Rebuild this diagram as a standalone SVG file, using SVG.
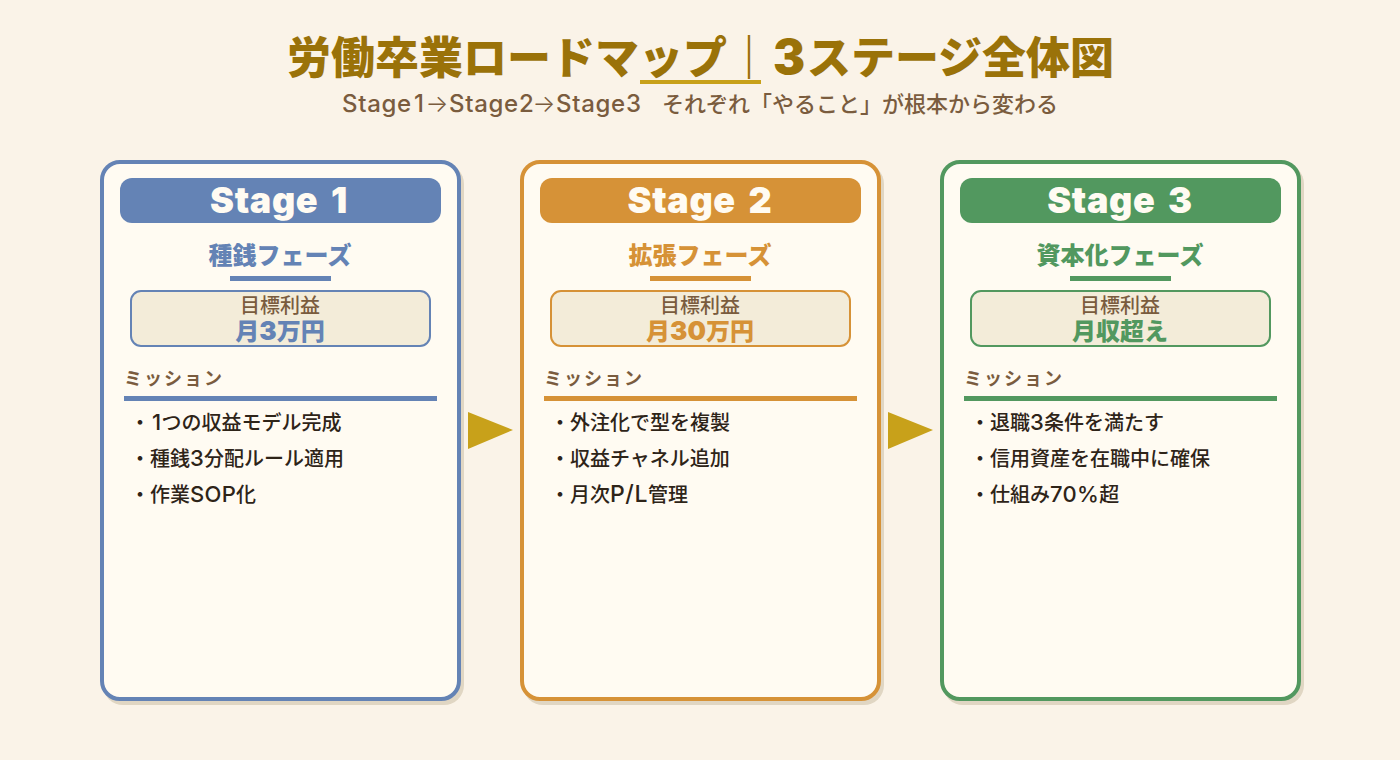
<svg xmlns="http://www.w3.org/2000/svg" width="1400" height="760" viewBox="0 0 1400 760">
<style>
text{font-family:"Inter","Noto Sans CJK JP",sans-serif}
.c{text-anchor:middle}
.title{font-size:44px;font-weight:900;fill:#9a7209}
.t3{font-size:48px}
.sub{font-size:22px;font-weight:500;fill:#7a5c3e}
.subl{font-size:24px;letter-spacing:.7px}
.ar{font-weight:300;font-size:24px}
.shadow{fill:#e0d6c3}
.card{fill:#fffbf2;stroke-width:4}
.badge-t{font-size:36px;font-weight:900;fill:#fffbf2;letter-spacing:.6px;word-spacing:5px}
.phase{font-size:24px;font-weight:900}
.box{fill:#f3ecd9;stroke-width:2}
.lbl{font-size:20px;font-weight:500;fill:#7a5c3e}
.val{font-size:24px;font-weight:900}
.dg{font-size:26px}
.mis{font-size:18px;font-weight:700;fill:#7a5c3e;letter-spacing:2px}
.li{font-size:20px;font-weight:500;fill:#2e2418}
.la{font-size:22px;letter-spacing:.3px}
.s1{fill:#6483b5}.s2{fill:#d69237}.s3{fill:#52985f}
.k1{stroke:#6483b5}.k2{stroke:#d69237}.k3{stroke:#52985f}
.arrow{fill:#c8a11a}
</style>
<rect width="1400" height="760" fill="#faf3e8"/>
<g id="title">
<text class="title" x="287" y="74">労働卒業ロードマップ｜<tspan class="t3" x="773">3</tspan><tspan x="807">ステージ全体図</tspan></text>
<rect x="640" y="80" width="121" height="4" fill="#c8a11a"/>
<text class="sub" x="342" y="112"><tspan class="subl">Stage<tspan dx="3">1</tspan></tspan><tspan class="ar" x="425.5">→</tspan><tspan class="subl" x="449">Stage2</tspan><tspan class="ar" x="532.5">→</tspan><tspan class="subl" x="556">Stage3</tspan><tspan x="640">　それぞれ「やること」が根本から変わる</tspan></text>
</g>
<g id="stage1">
<rect class="shadow" x="103" y="164" width="361" height="541" rx="20"/>
<rect class="card k1" x="102" y="162" width="357" height="537" rx="18"/>
<rect class="s1" x="120" y="178" width="321" height="45" rx="12"/>
<text class="badge-t c" x="279" y="213">Stage 1</text>
<text class="phase c s1" x="280" y="264">種銭フェーズ</text>
<rect class="s1" x="230" y="276" width="101" height="5"/>
<rect class="box k1" x="131" y="291" width="299" height="55" rx="10"/>
<text class="lbl c" x="280" y="313">目標利益</text>
<text class="val c s1" x="280" y="340">月<tspan class="dg">3</tspan>万円</text>
<text class="mis" x="124" y="385">ミッション</text>
<rect class="s1" x="124" y="396" width="313" height="5"/>
<text class="li" x="130" y="430">・<tspan class="la" dx="2" letter-spacing="2.5">1</tspan>つの収益モデル完成</text>
<text class="li" x="130" y="466">・種銭<tspan class="la">3</tspan>分配ルール適用</text>
<text class="li" x="130" y="502">・作業<tspan class="la">SOP</tspan>化</text>
</g>
<g id="stage2">
<rect class="shadow" x="523" y="164" width="361" height="541" rx="20"/>
<rect class="card k2" x="522" y="162" width="357" height="537" rx="18"/>
<rect class="s2" x="540" y="178" width="321" height="45" rx="12"/>
<text class="badge-t c" x="700" y="213">Stage 2</text>
<text class="phase c s2" x="700" y="264">拡張フェーズ</text>
<rect class="s2" x="650" y="276" width="101" height="5"/>
<rect class="box k2" x="551" y="291" width="299" height="55" rx="10"/>
<text class="lbl c" x="700" y="313">目標利益</text>
<text class="val c s2" x="700" y="340">月<tspan class="dg">30</tspan>万円</text>
<text class="mis" x="544" y="385">ミッション</text>
<rect class="s2" x="544" y="396" width="313" height="5"/>
<text class="li" x="550" y="430">・外注化で型を複製</text>
<text class="li" x="550" y="466">・収益チャネル追加</text>
<text class="li" x="550" y="502">・月次<tspan class="la" style="font-size:23px;letter-spacing:.6px">P/L</tspan>管理</text>
</g>
<g id="stage3">
<rect class="shadow" x="943" y="164" width="361" height="541" rx="20"/>
<rect class="card k3" x="942" y="162" width="357" height="537" rx="18"/>
<rect class="s3" x="960" y="178" width="321" height="45" rx="12"/>
<text class="badge-t c" x="1120" y="213">Stage 3</text>
<text class="phase c s3" x="1120" y="264">資本化フェーズ</text>
<rect class="s3" x="1070" y="276" width="101" height="5"/>
<rect class="box k3" x="971" y="291" width="299" height="55" rx="10"/>
<text class="lbl c" x="1120" y="313">目標利益</text>
<text class="val c s3" x="1120" y="340">月収超え</text>
<text class="mis" x="964" y="385">ミッション</text>
<rect class="s3" x="964" y="396" width="313" height="5"/>
<text class="li" x="970" y="430">・退職<tspan class="la">3</tspan>条件を満たす</text>
<text class="li" x="970" y="466">・信用資産を在職中に確保</text>
<text class="li" x="970" y="502">・仕組み<tspan class="la">70%</tspan>超</text>
</g>
<g id="connectors">
<polygon class="arrow" points="468,412 513,430 468,449"/>
<polygon class="arrow" points="888,412 933,430 888,449"/>
</g>
</svg>
